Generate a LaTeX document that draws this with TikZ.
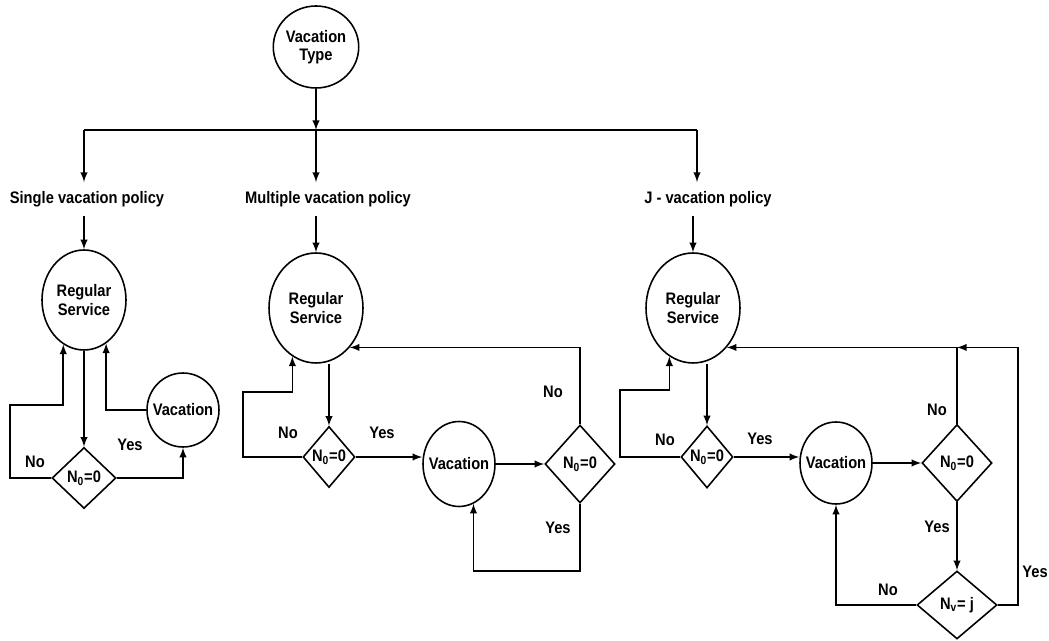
\documentclass[tikz,border=0pt]{standalone}
\usepackage{fontspec}
\setmainfont{Liberation Sans}[FakeStretch=0.88]
\usetikzlibrary{arrows,positioning,shapes,calc}

\begin{document}
\begin{tikzpicture}[
        x=0.02cm, y=-0.02cm,
        every node/.style={font=\fontsize{9.5}{10.5}\selectfont\bfseries},
        state/.style={ellipse, draw, line width=0.9pt, inner sep=0pt, align=center},
        vac/.style={state, inner xsep=-3pt, minimum width=1.44cm},
        test/.style={diamond, draw, line width=0.9pt, inner sep=0pt},
        policy/.style={inner sep=5pt},
        ans/.style={inner sep=1pt},
        arrow/.style={-latex, line width=0.9pt},
        link/.style={line width=0.9pt}
    ]
        \useasboundingbox (0,0) rectangle (1049,641);

        % Root and policy labels
        \node[state, minimum width=1.44cm, minimum height=1.64cm] (vt) at (316,47) {Vacation\\Type};
        \coordinate (bl) at (84,130);
        \coordinate (bm) at (316,130);
        \coordinate (br) at (697,130);
        \node[policy] (p1) at (87,199) {Single vacation policy};
        \node[policy] (p2) at (328,199) {Multiple vacation policy};
        \node[policy] (p3) at (708,199) {J - vacation policy};

        \draw[arrow] (vt) -- (bm);
        \draw[link] (bl) -- (br);
        \draw[arrow] (bl) -- (bl |- p1.north);
        \draw[arrow] (bm) -- (bm |- p2.north);
        \draw[arrow] (br) -- (br |- p3.north);

        % Single vacation policy
        \node[state, minimum width=1.68cm, minimum height=2.0cm] (rs1) at (84,300) {Regular\\Service};
        \node[test, minimum width=1.28cm, minimum height=1.22cm] (d1) at (84,478) {N\textsubscript{0}=0};
        \node[vac, minimum height=1.48cm] (v1) at (183,410) {Vacation};
        \node[ans] (n1) at (35,462) {No};
        \node[ans] (y1) at (130,445) {Yes};

        \draw[arrow] (p1.south -| rs1.north) -- (rs1.north);
        \draw[arrow] (rs1) -- (d1);
        \draw[arrow] (d1.west) -| ++(-41,-73) -| (rs1.245);
        \draw[arrow] (d1.east) -| (v1);
        \draw[arrow] (v1.west) -| (rs1.297);

        % Multiple vacation policy
        \node[state, minimum width=1.88cm, minimum height=2.2cm] (rs2) at (316,308) {Regular\\Service};
        \node[test, minimum width=1.04cm, minimum height=1.22cm] (d2a) at (329,457) {N\textsubscript{0}=0};
        \node[vac, minimum height=1.7cm] (v2) at (459,464) {Vacation};
        \node[test, minimum width=1.4cm, minimum height=1.56cm] (d2b) at (580,464) {N\textsubscript{0}=0};
        \node[ans] (n2a) at (288,433) {No};
        \node[ans] (y2a) at (382,433) {Yes};
        \node[ans] (n2b) at (553,392) {No};
        \node[ans] (y2b) at (558,528) {Yes};

        \draw[arrow] (p2.south -| rs2.north) -- (rs2.north);
        \draw[arrow] (d2a.north |- rs2.south) -- (d2a.north);
        \draw[arrow] (d2a.west) -| ++(-59,-65) -| (rs2.244);
        \draw[arrow] (d2a.east) -- (d2a.east -| v2.west);
        \draw[arrow] (v2) -- (d2b);
        \draw[arrow] (d2b.north) |- (rs2.south east);
        \draw[arrow] (d2b.south) -- ++(0,67) -| (v2.290);

        % J - vacation policy
        \node[state, minimum width=1.88cm, minimum height=2.2cm] (rs3) at (693,308) {Regular\\Service};
        \node[test, minimum width=1.04cm, minimum height=1.24cm] (d3a) at (707,457) {N\textsubscript{0}=0};
        \node[vac, minimum height=1.64cm] (v3) at (836,463) {Vacation};
        \node[test, minimum width=1.4cm, minimum height=1.54cm] (d3b) at (957,463) {N\textsubscript{0}=0};
        \node[test, minimum width=1.6cm, minimum height=1.36cm] (d3c) at (957,605) {N\textsubscript{v}= j};
        \coordinate (j3) at (d3b.north |- rs3.south east);
        \node[ans] (n3a) at (665,440) {No};
        \node[ans] (y3a) at (760,439) {Yes};
        \node[ans] (n3b) at (937,410) {No};
        \node[ans] (y3b) at (937,527) {Yes};
        \node[ans] (n3c) at (888,590) {No};
        \node[ans] (y3c) at (1035,572) {Yes};

        \draw[arrow] (p3.south -| rs3.north) -- (rs3.north);
        \draw[arrow] (d3a.north |- rs3.south) -- (d3a.north);
        \draw[arrow] (d3a.west) -| ++(-60,-67) -| (rs3.244);
        \draw[arrow] (d3a.east) -- (d3a.east -| v3.west);
        \draw[arrow] (v3) -- (d3b);
        \draw[arrow] (d3b.north) -- (j3) -- (rs3.south east);
        \draw[arrow] (d3b) -- (d3c);
        \draw[arrow] (d3c.west) -| (v3.south);
        \draw[arrow] (d3c.east) -- ++(20,0) |- (j3);
    \end{tikzpicture}
\end{document}
